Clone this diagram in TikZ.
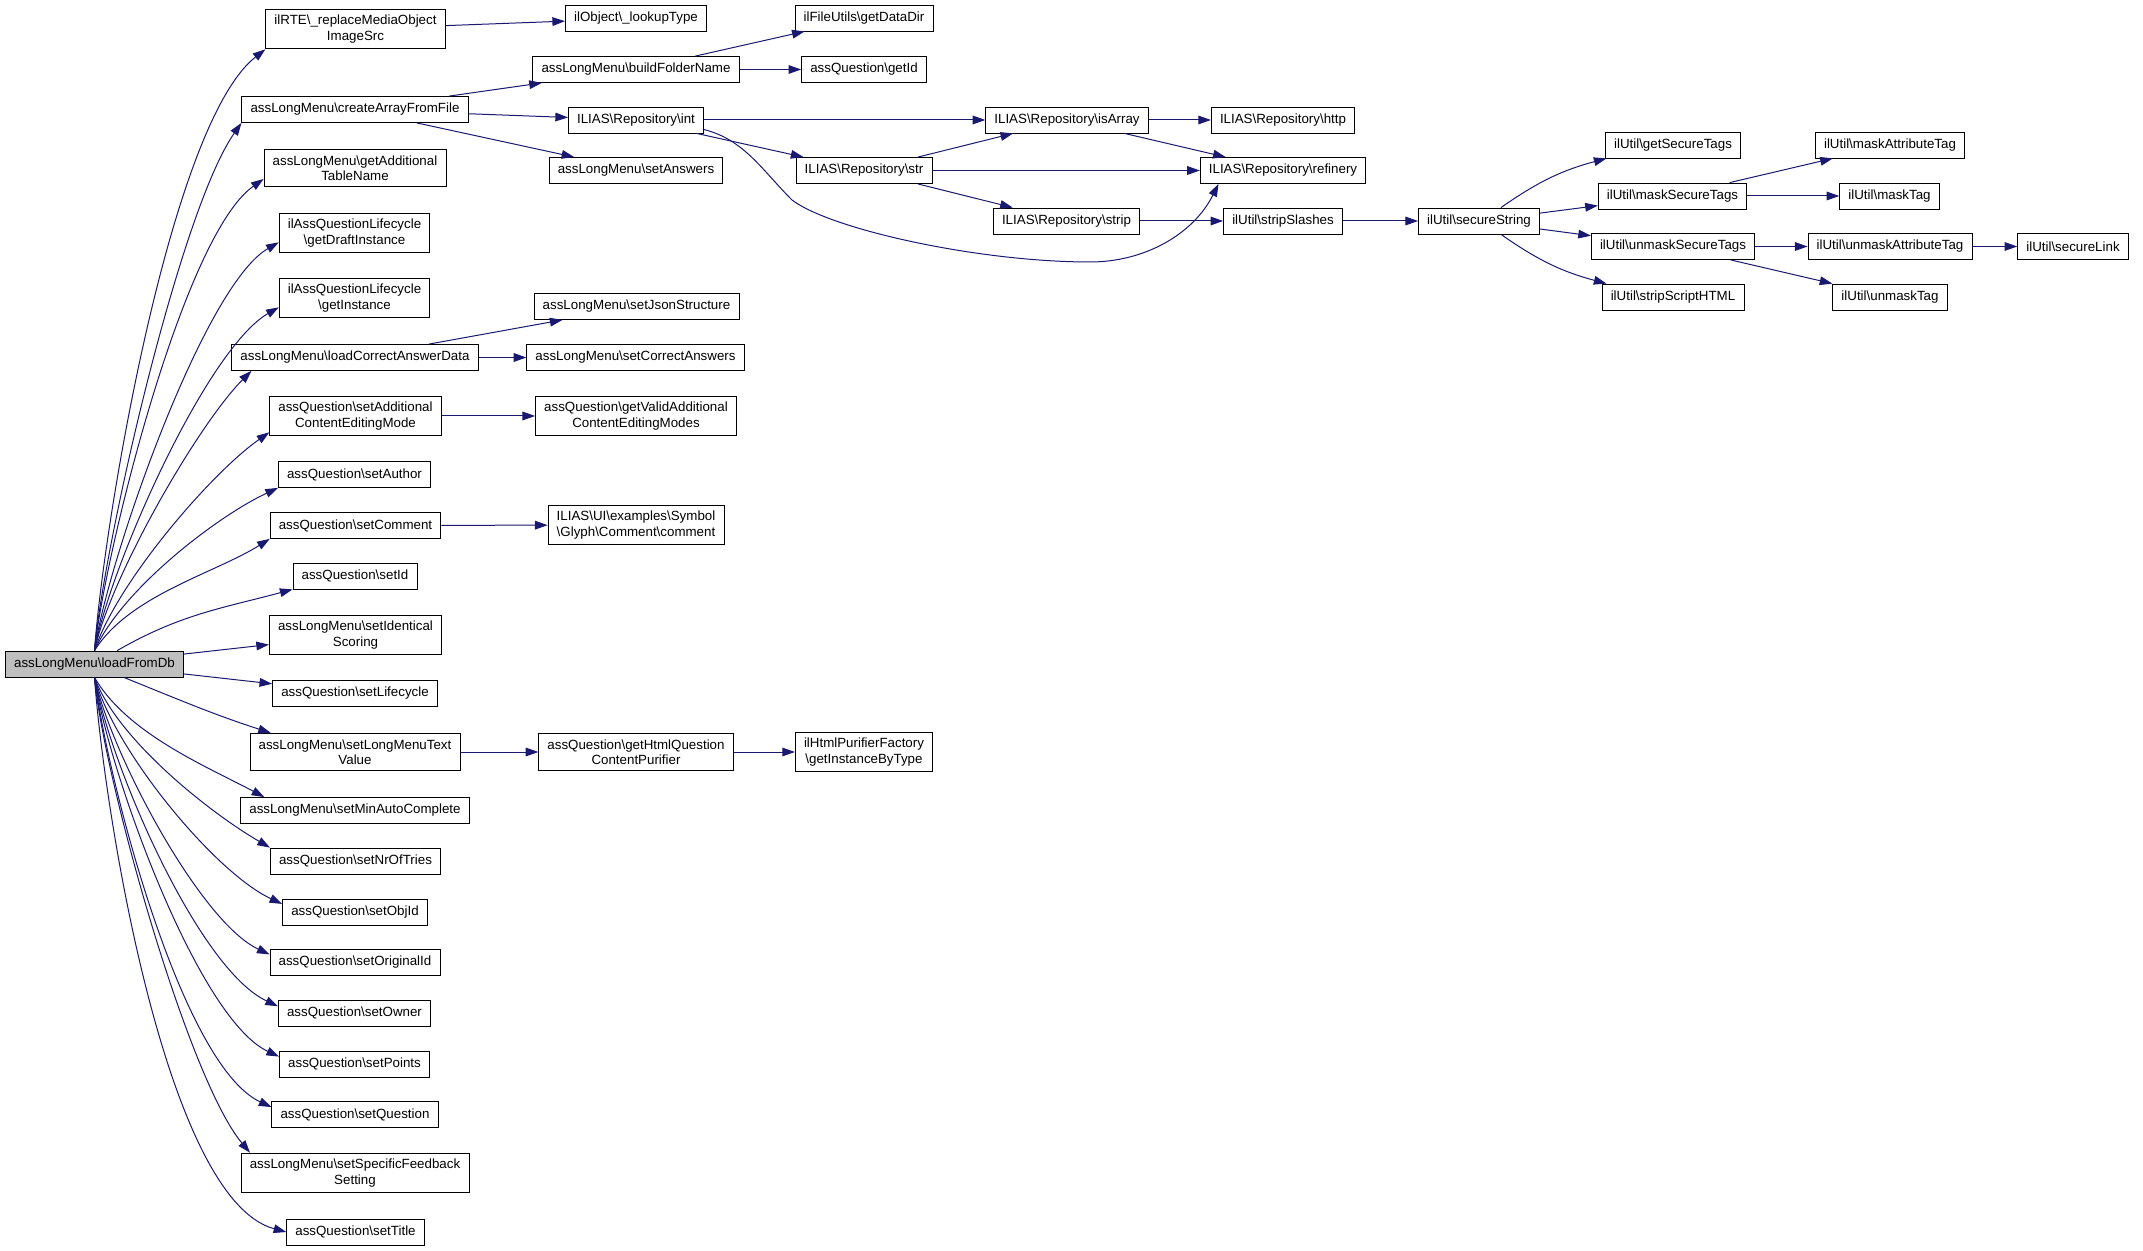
\documentclass[tikz,border=0pt]{standalone}
\usepackage{fontspec}
\setmainfont{Liberation Sans}
\usetikzlibrary{arrows.meta}

\definecolor{callblue}{HTML}{191970}
\definecolor{rootgray}{HTML}{BFBFBF}
\newcommand{\pathsep}{\textbackslash}

\tikzset{
  fn/.style={draw=black, line width=0.6pt, fill=white, align=center,
    inner xsep=6.5pt, inner ysep=4.5pt, minimum height=19.5pt,
    font=\fontsize{10}{11.5}\selectfont},
  rootfn/.style={fn, fill=rootgray},
  call/.style={draw=callblue, line width=0.75pt,
    -{Triangle[length=9.5pt,width=6.5pt]}},
}

\begin{document}
\begin{tikzpicture}[x=0.75pt, y=0.75pt]
\useasboundingbox (0,0) rectangle (2143,-1251);

% caller
\node[rootfn] (root) at (94.5,-664) {assLongMenu\pathsep loadFromDb};

% direct callees
\node[fn] (ilrte) at (355.5,-29) {ilRTE\pathsep\_replaceMediaObject\\ImageSrc};
\node[fn] (createarr) at (355,-109.5) {assLongMenu\pathsep createArrayFromFile};
\node[fn] (gettable) at (355,-168) {assLongMenu\pathsep getAdditional\\TableName};
\node[fn] (draftinst) at (354.5,-233) {ilAssQuestionLifecycle\\\pathsep getDraftInstance};
\node[fn] (getinst) at (354.5,-298) {ilAssQuestionLifecycle\\\pathsep getInstance};
\node[fn] (loadcorrect) at (355,-357.5) {assLongMenu\pathsep loadCorrectAnswerData};
\node[fn] (setaddmode) at (355.5,-416) {assQuestion\pathsep setAdditional\\ContentEditingMode};
\node[fn] (setauthor) at (354.5,-474.5) {assQuestion\pathsep setAuthor};
\node[fn] (setcomment) at (355.5,-525.5) {assQuestion\pathsep setComment};
\node[fn] (setid) at (355,-576) {assQuestion\pathsep setId};
\node[fn] (setident) at (355.5,-635) {assLongMenu\pathsep setIdentical\\Scoring};
\node[fn] (setlife) at (355,-693) {assQuestion\pathsep setLifecycle};
\node[fn] (setlongtext) at (355,-752) {assLongMenu\pathsep setLongMenuText\\Value};
\node[fn] (setminauto) at (355,-810.5) {assLongMenu\pathsep setMinAutoComplete};
\node[fn] (setnrtries) at (355.5,-861) {assQuestion\pathsep setNrOfTries};
\node[fn] (setobjid) at (355,-912) {assQuestion\pathsep setObjId};
\node[fn] (setorigid) at (355,-962.5) {assQuestion\pathsep setOriginalId};
\node[fn] (setowner) at (354.5,-1013) {assQuestion\pathsep setOwner};
\node[fn] (setpoints) at (354.5,-1064) {assQuestion\pathsep setPoints};
\node[fn] (setquestion) at (355,-1114.5) {assQuestion\pathsep setQuestion};
\node[fn] (setfeedback) at (355,-1173) {assLongMenu\pathsep setSpecificFeedback\\Setting};
\node[fn] (settitle) at (355.5,-1232) {assQuestion\pathsep setTitle};

% second level
\node[fn] (lookuptype) at (636,-18.5) {ilObject\pathsep\_lookupType};
\node[fn] (buildfolder) at (636,-69.5) {assLongMenu\pathsep buildFolderName};
\node[fn] (repoint) at (636,-120) {ILIAS\pathsep Repository\pathsep int};
\node[fn] (setanswers) at (636,-170.5) {assLongMenu\pathsep setAnswers};
\node[fn] (setjson) at (636.5,-306.5) {assLongMenu\pathsep setJsonStructure};
\node[fn] (setcorrect) at (635.5,-357.5) {assLongMenu\pathsep setCorrectAnswers};
\node[fn] (getvalidmodes) at (636,-416) {assQuestion\pathsep getValidAdditional\\ContentEditingModes};
\node[fn] (uicomment) at (636,-525) {ILIAS\pathsep UI\pathsep examples\pathsep Symbol\\\pathsep Glyph\pathsep Comment\pathsep comment};
\node[fn] (gethtmlpur) at (636,-752) {assQuestion\pathsep getHtmlQuestion\\ContentPurifier};

% third level and beyond
\node[fn] (getdatadir) at (864,-18) {ilFileUtils\pathsep getDataDir};
\node[fn] (getid) at (864,-69.5) {assQuestion\pathsep getId};
\node[fn] (repostr) at (864,-170.5) {ILIAS\pathsep Repository\pathsep str};
\node[fn] (purifierfac) at (864,-752) {ilHtmlPurifierFactory\\\pathsep getInstanceByType};
\node[fn] (isarray) at (1067,-120) {ILIAS\pathsep Repository\pathsep isArray};
\node[fn] (repostrip) at (1066.5,-221) {ILIAS\pathsep Repository\pathsep strip};
\node[fn] (http) at (1283,-120) {ILIAS\pathsep Repository\pathsep http};
\node[fn] (refinery) at (1283,-170.5) {ILIAS\pathsep Repository\pathsep refinery};
\node[fn] (stripslashes) at (1283,-221) {ilUtil\pathsep stripSlashes};
\node[fn] (securestring) at (1479,-221) {ilUtil\pathsep secureString};
\node[fn] (securetags) at (1673,-145) {ilUtil\pathsep getSecureTags};
\node[fn] (masksecure) at (1672.5,-196) {ilUtil\pathsep maskSecureTags};
\node[fn] (unmasksecure) at (1673,-246.5) {ilUtil\pathsep unmaskSecureTags};
\node[fn] (stripscript) at (1673,-297) {ilUtil\pathsep stripScriptHTML};
\node[fn] (maskattr) at (1890,-145) {ilUtil\pathsep maskAttributeTag};
\node[fn] (masktag) at (1889.5,-196) {ilUtil\pathsep maskTag};
\node[fn] (unmaskattr) at (1890,-246.5) {ilUtil\pathsep unmaskAttributeTag};
\node[fn] (unmasktag) at (1890,-297) {ilUtil\pathsep unmaskTag};
\node[fn] (securelink) at (2073,-246.5) {ilUtil\pathsep secureLink};

% calls from loadFromDb, upper half
\draw[call] (root.north) to[out=86,in=218,looseness=0.5] (ilrte.south west);
\draw[call] (root.north) to[out=85,in=235,looseness=0.5] (createarr.south west);
\draw[call] (root.north) to[out=84,in=215,looseness=0.5] ([yshift=6pt]gettable.south west);
\draw[call] (root.north) to[out=82,in=210,looseness=0.5] ([yshift=-7pt]draftinst.west);
\draw[call] (root.north) to[out=80,in=210,looseness=0.55] ([yshift=-7pt]getinst.west);
\draw[call] (root.north) to[out=78,in=225,looseness=0.6] ([xshift=15pt]loadcorrect.south west);
\draw[call] (root.north) to[out=72,in=215,looseness=0.65] ([yshift=3pt]setaddmode.south west);
\draw[call] (root.north) to[out=66,in=205,looseness=0.7] (setauthor.south west);
\draw[call] (root.north) to[out=58,in=212,looseness=0.8] (setcomment.south west);
\draw[call] ([xshift=17pt]root.north) to[out=30,in=195] (setid.south west);
\draw[call] (root) -- (setident);
\draw[call] (root) -- (setlife);

% calls from loadFromDb, lower half
\draw[call] ([xshift=22pt]root.south) to[out=-22,in=162] ([xshift=16pt]setlongtext.north west);
\draw[call] (root.south) to[out=-60,in=152,looseness=0.8] ([xshift=18pt]setminauto.north west);
\draw[call] (root.south) to[out=-70,in=150,looseness=0.7] (setnrtries.north west);
\draw[call] (root.south) to[out=-75,in=155,looseness=0.65] ([yshift=-4pt]setobjid.north west);
\draw[call] (root.south) to[out=-78,in=155,looseness=0.6] ([yshift=-4pt]setorigid.north west);
\draw[call] (root.south) to[out=-80,in=155,looseness=0.6] ([yshift=-5pt]setowner.north west);
\draw[call] (root.south) to[out=-82,in=155,looseness=0.55] ([yshift=-4.5pt]setpoints.north west);
\draw[call] (root.south) to[out=-83,in=155,looseness=0.55] ([yshift=-4.5pt]setquestion.north west);
\draw[call] (root.south) to[out=-85,in=130,looseness=0.5] ([xshift=7pt]setfeedback.north west);
\draw[call] (root.south) to[out=-86,in=165,looseness=0.55] (settitle.west);

% deeper calls
\draw[call] (ilrte) -- (lookuptype);
\draw[call] (createarr) -- (buildfolder);
\draw[call] (createarr) -- (repoint);
\draw[call] (createarr) -- (setanswers);
\draw[call] (buildfolder) -- (getdatadir);
\draw[call] (buildfolder) -- (getid);
\draw[call] (repoint) -- (isarray);
\draw[call] (repoint) -- (repostr);
\draw[call] (repoint.-8) .. controls +(40,-10) and +(-30,30) .. (792,-200)
  .. controls +(40,-30) and +(-110,0) .. (1090,-262)
  .. controls +(55,0) and +(-25,-50) .. ([xshift=14pt]refinery.south west);
\draw[call] (repostr) -- (isarray);
\draw[call] (repostr) -- (refinery);
\draw[call] (repostr) -- (repostrip);
\draw[call] (isarray) -- (http);
\draw[call] (isarray) -- (refinery);
\draw[call] (repostrip) -- (stripslashes);
\draw[call] (stripslashes) -- (securestring);
\draw[call] (securestring) to[bend left=10] (securetags);
\draw[call] (securestring) -- (masksecure);
\draw[call] (securestring) -- (unmasksecure);
\draw[call] (securestring) to[bend right=10] (stripscript);
\draw[call] (masksecure) -- (maskattr);
\draw[call] (masksecure) -- (masktag);
\draw[call] (unmasksecure) -- (unmaskattr);
\draw[call] (unmasksecure) -- (unmasktag);
\draw[call] (unmaskattr) -- (securelink);
\draw[call] (loadcorrect) -- (setjson);
\draw[call] (loadcorrect) -- (setcorrect);
\draw[call] (setaddmode) -- (getvalidmodes);
\draw[call] (setcomment) -- (uicomment);
\draw[call] (setlongtext) -- (gethtmlpur);
\draw[call] (gethtmlpur) -- (purifierfac);
\end{tikzpicture}
\end{document}
